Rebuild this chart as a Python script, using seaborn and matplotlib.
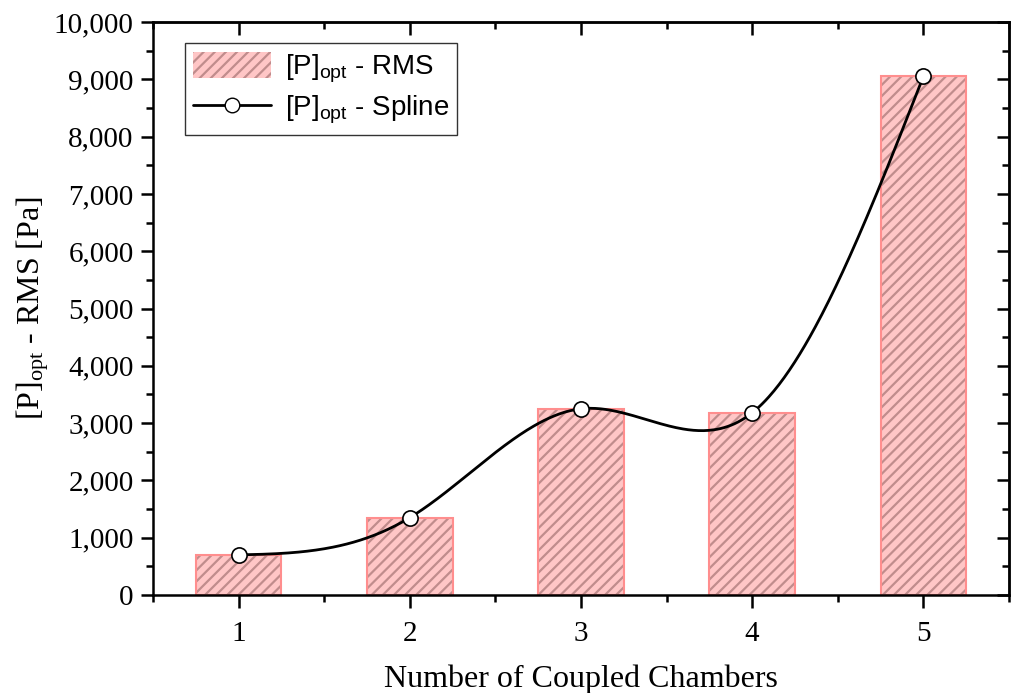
import numpy as np
import pandas as pd
import matplotlib
matplotlib.use("Agg")
import matplotlib.pyplot as plt
from matplotlib.lines import Line2D
from matplotlib.patches import Patch
from matplotlib.ticker import MultipleLocator, FuncFormatter, NullFormatter
import seaborn as sns

# ---- data ----
chambers = [1, 2, 3, 4, 5]
p_rms = [700, 1350, 3250, 3180, 9050]
x_label = "Number of Coupled Chambers"
y_label = r"[P]$_{opt}$ - RMS [Pa]"
legend_bar = r"[P]$_{opt}$ - RMS"
legend_line = r"[P]$_{opt}$ - Spline"

sns.set_theme(style="white")
plt.rcParams["mathtext.default"] = "regular"
plt.rcParams["hatch.linewidth"] = 1.6
plt.rcParams["font.family"] = ["Liberation Serif", "DejaVu Serif"]
plt.rcParams["text.color"] = "black"
plt.rcParams["axes.labelcolor"] = "black"
plt.rcParams["xtick.color"] = "black"
plt.rcParams["ytick.color"] = "black"

FACE = "#FFC6C6"
HATCH = "#C08C8C"
EDGE = "#FF8E8E"

def natural_spline(xs, ys, n=400):
    xs = np.asarray(xs, float); ys = np.asarray(ys, float)
    k = len(xs); h = np.diff(xs)
    A = np.zeros((k, k)); b = np.zeros(k)
    A[0, 0] = 1; A[-1, -1] = 1
    for i in range(1, k - 1):
        A[i, i - 1] = h[i - 1]; A[i, i] = 2 * (h[i - 1] + h[i]); A[i, i + 1] = h[i]
        b[i] = 6 * ((ys[i + 1] - ys[i]) / h[i] - (ys[i] - ys[i - 1]) / h[i - 1])
    M = np.linalg.solve(A, b)
    xx = np.linspace(xs[0], xs[-1], n)
    idx = np.clip(np.searchsorted(xs, xx) - 1, 0, k - 2)
    x0 = xs[idx]; x1 = xs[idx + 1]; hh = x1 - x0
    yy = (M[idx] * (x1 - xx) ** 3 / (6 * hh) + M[idx + 1] * (xx - x0) ** 3 / (6 * hh)
          + (ys[idx] / hh - M[idx] * hh / 6) * (x1 - xx)
          + (ys[idx + 1] / hh - M[idx + 1] * hh / 6) * (xx - x0))
    return xx, yy

df = pd.DataFrame({"chambers": chambers, "p": p_rms})

fig = plt.figure(figsize=(10.13, 6.93), dpi=100)
ax = fig.add_axes([0.151, 0.1414, 0.845, 0.8268])

sns.barplot(data=df, x="chambers", y="p", native_scale=True, width=0.5,
            color=FACE, saturation=1, ax=ax, errorbar=None)
for p in ax.patches:
    p.set_facecolor(FACE)
    p.set_edgecolor(HATCH)
    p.set_hatch("///")
    p.set_linewidth(0)
sns.barplot(data=df, x="chambers", y="p", native_scale=True, width=0.5,
            color=EDGE, saturation=1, fill=False, linewidth=1.5, ax=ax, errorbar=None)

sx, sy = natural_spline(chambers, p_rms)
sns.lineplot(x=sx, y=sy, color="black", linewidth=2, sort=False, estimator=None, ax=ax, zorder=5)
sns.scatterplot(x=chambers, y=p_rms, s=120, color="white", edgecolor="black",
                linewidth=1.2, ax=ax, zorder=6)

ax.set_xlim(0.5, 5.5)
ax.set_ylim(0, 10000)
ax.xaxis.set_major_locator(MultipleLocator(1))
ax.xaxis.set_minor_locator(MultipleLocator(0.5))
ax.yaxis.set_major_locator(MultipleLocator(1000))
ax.yaxis.set_minor_locator(MultipleLocator(500))
ax.yaxis.set_major_formatter(FuncFormatter(lambda v, _: f"{int(v):,}"))
ax.xaxis.set_major_formatter(FuncFormatter(lambda v, _: f"{int(v)}"))

for s in ax.spines.values():
    s.set_visible(True)
    s.set_color("black")
    s.set_linewidth(1.8)

ax.tick_params(axis="both", which="both", colors="black", width=1.8,
               top=False, right=False, bottom=True, left=True)
ax.tick_params(axis="x", which="major", direction="out", length=9, labelsize=21, pad=10)
ax.tick_params(axis="x", which="minor", direction="out", length=5)
ax.tick_params(axis="y", which="major", direction="out", length=9, labelsize=21, pad=5)
ax.tick_params(axis="y", which="minor", direction="out", length=5)

# inward ticks on top and right
top = ax.secondary_xaxis("top")
top.xaxis.set_major_locator(MultipleLocator(1))
top.xaxis.set_minor_locator(MultipleLocator(0.5))
top.xaxis.set_major_formatter(NullFormatter())
top.tick_params(which="both", direction="in", width=1.8, colors="black", top=True)
top.tick_params(which="major", length=9)
top.tick_params(which="minor", length=5)
top.spines["top"].set_linewidth(1.8)
right = ax.secondary_yaxis("right")
right.yaxis.set_major_locator(MultipleLocator(1000))
right.yaxis.set_minor_locator(MultipleLocator(500))
right.yaxis.set_major_formatter(NullFormatter())
right.tick_params(which="both", direction="in", width=1.8, colors="black", right=True)
right.tick_params(which="major", length=9)
right.tick_params(which="minor", length=5)
right.spines["right"].set_linewidth(1.8)

ax.set_xlabel(x_label, fontsize=23)
ax.xaxis.set_label_coords(0.5, -0.122)
ax.set_ylabel(y_label, fontsize=23, labelpad=2)

handles = [Patch(facecolor=FACE, edgecolor=HATCH, hatch="///", linewidth=0),
           Line2D([0], [0], color="black", linewidth=2, marker="o", markersize=10.5,
                  markerfacecolor="white", markeredgecolor="black")]
leg = ax.legend(handles, [legend_bar, legend_line], loc="upper left",
                bbox_to_anchor=(0.037, 0.963), frameon=True, fancybox=False,
                prop={"family": "Liberation Sans", "size": 20},
                handlelength=2.8, handleheight=1.1, borderpad=0.3,
                labelspacing=0.3, handletextpad=0.5, borderaxespad=0)
leg.get_frame().set_edgecolor("black")
leg.get_frame().set_linewidth(1.0)
for t in leg.get_texts():
    t.set_color("black")

fig.savefig("out.png", dpi=100)
